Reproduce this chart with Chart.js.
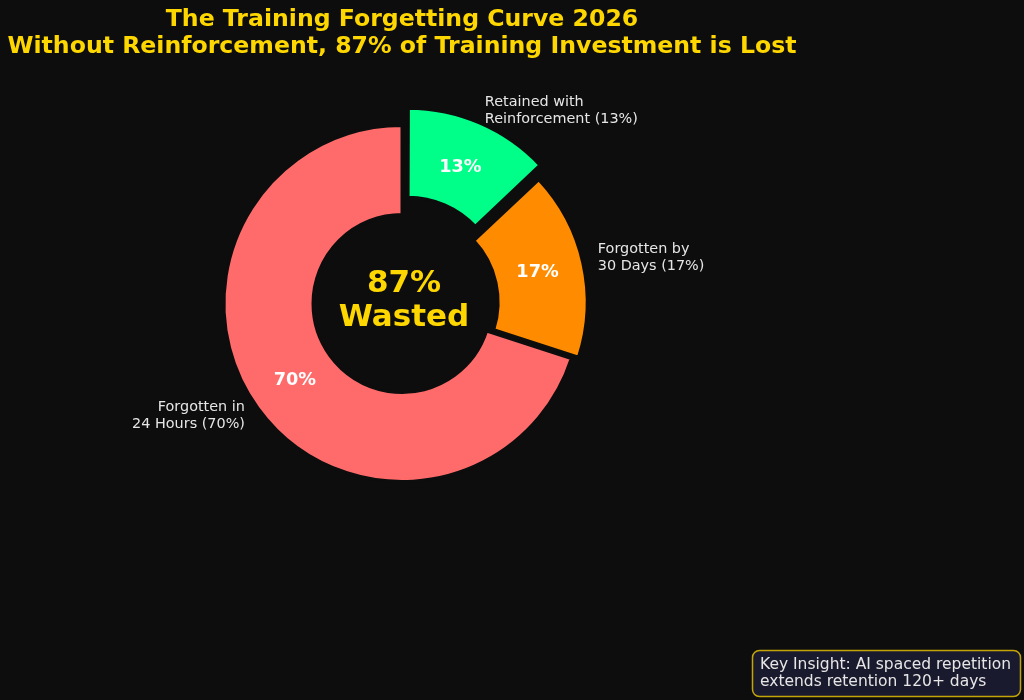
<!DOCTYPE html>
<html>
<head>
<meta charset="utf-8">
<script src="https://cdn.jsdelivr.net/npm/chart.js@4.4.1/dist/chart.umd.min.js"></script>
<style>
  html, body { margin: 0; padding: 0; background: #0d0d0d; }
</style>
</head>
<body>
<canvas id="forgetChart" width="1024" height="700"></canvas>
<script>
const canvas = document.getElementById('forgetChart');
const ctx = canvas.getContext('2d');

//// data (clockwise from 12 o'clock)
const sliceLabels = [
  ['Retained with', 'Reinforcement (13%)'],
  ['Forgotten by', '30 Days (17%)'],
  ['Forgotten in', '24 Hours (70%)']
];
const shares = [13, 17, 70];
const sliceColors = ['#00FF88', '#FF8C00', '#FF6B6B'];
const explode = [58, 26, 0];   // chart.js divides offset by 4

const titleLines = [
  'The Training Forgetting Curve 2026',
  'Without Reinforcement, 87% of Training Investment is Lost'
];
const centerLines = ['87%', 'Wasted'];
const insightLines = ['Key Insight: AI spaced repetition', 'extends retention 120+ days'];

const BG = '#0d0d0d';
const GOLD = '#FFD700';
const FONT = "'DejaVu Sans', sans-serif";

// background + text drawn on the canvas
const decorations = {
  id: 'decorations',
  beforeDraw(chart) {
    const c = chart.ctx;
    c.save();
    c.fillStyle = BG;
    c.fillRect(0, 0, chart.width, chart.height);
    c.restore();
  },
  afterDatasetsDraw(chart) {
    const c = chart.ctx;
    const meta = chart.getDatasetMeta(0);
    c.save();
    meta.data.forEach((arc, i) => {
      const p = arc.getProps(['x', 'y', 'startAngle', 'endAngle', 'outerRadius'], true);
      const mid = (p.startAngle + p.endAngle) / 2;
      const shift = explode[i] / 4;
      const cx = p.x + Math.cos(mid) * shift;
      const cy = p.y + Math.sin(mid) * shift;
      const r = p.outerRadius - 1.5;

      // percentage inside the slice
      c.font = 'bold 17.7px ' + FONT;
      c.fillStyle = '#ffffff';
      c.textAlign = 'center';
      c.textBaseline = 'middle';
      c.fillText(shares[i] + '%', cx + Math.cos(mid) * 0.75 * r, cy + Math.sin(mid) * 0.75 * r - 1);

      // outer label
      const lx = cx + Math.cos(mid) * 1.1 * r;
      const ly = cy + Math.sin(mid) * 1.1 * r;
      c.font = '14.4px ' + FONT;
      c.fillStyle = '#e6e6e6';
      c.textAlign = Math.cos(mid) >= 0 ? 'left' : 'right';
      const lines = sliceLabels[i];
      lines.forEach((line, k) => {
        c.fillText(line, lx, ly - 1.5 + (k - (lines.length - 1) / 2) * 17);
      });
    });

    // centre text
    const first = meta.data[0];
    c.font = 'bold 31px ' + FONT;
    c.fillStyle = GOLD;
    c.textAlign = 'center';
    c.textBaseline = 'middle';
    c.fillText(centerLines[0], first.x + 2, first.y - 20);
    c.fillText(centerLines[1], first.x + 2, first.y + 14);
    c.restore();
  },
  afterDraw(chart) {
    const c = chart.ctx;
    c.save();
    c.beginPath();
    c.roundRect(752.5, 650.5, 268, 46, 7);
    c.fillStyle = '#1a1a2e';
    c.fill();
    c.lineWidth = 1.5;
    c.strokeStyle = 'rgba(255,215,0,0.75)';
    c.stroke();
    c.font = '15.5px ' + FONT;
    c.fillStyle = '#e6e6e6';
    c.textAlign = 'left';
    c.textBaseline = 'middle';
    c.fillText(insightLines[0], 760, 665);
    c.fillText(insightLines[1], 760, 682);
    c.restore();
  }
};

const data = {
  labels: sliceLabels,
  datasets: [{
    data: shares,
    backgroundColor: sliceColors,
    borderColor: BG,
    borderWidth: 3,
    offset: explode,
    hoverOffset: 0
  }]
};

const options = {
  responsive: false,
  animation: false,
  events: [],
  radius: 178,
  cutout: '50%',
  layout: {
    padding: { left: 0, right: 220, top: 0, bottom: 155 }
  },
  plugins: {
    legend: { display: false },
    tooltip: { enabled: false },
    title: {
      display: true,
      fullSize: false,
      text: titleLines,
      color: GOLD,
      font: { family: FONT, size: 23.6, weight: 'bold', lineHeight: 1.15 },
      padding: { top: 6, bottom: 1.7 }
    }
  }
};

new Chart(ctx, {
  type: 'doughnut',
  data,
  options,
  plugins: [decorations]
});
</script>
</body>
</html>
